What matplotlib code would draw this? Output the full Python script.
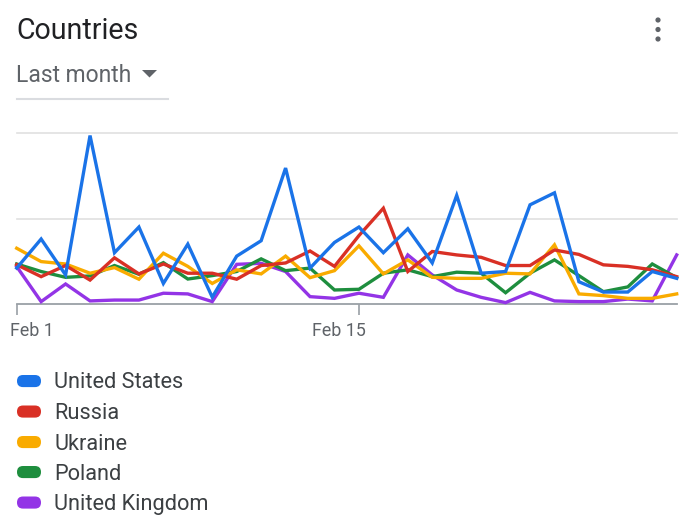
import matplotlib
matplotlib.use("Agg")
import matplotlib.pyplot as plt
from matplotlib.patches import FancyBboxPatch, Polygon, Circle

plt.rcParams['font.family'] = ['Roboto', 'DejaVu Sans']

days = list(range(1, 29))
tick_days = [1, 15]
tick_labels = ["Feb 1", "Feb 15"]

countries = ["United States", "Russia", "Ukraine", "Poland", "United Kingdom"]
colors = ["#1a73e8", "#d93025", "#f9ab00", "#1e8e3e", "#9334e6"]

united_states = [21, 38, 17, 98.5, 30, 45, 12, 35, 4, 28, 37, 79.5, 21, 36,
                 45, 30, 44, 24, 63.5, 18, 19, 58, 65, 13, 7, 7, 19, 15]
russia = [23, 16, 22.5, 14, 27, 17.6, 23.4, 18, 18, 14.5, 22.5, 24, 31, 22,
          40, 56, 19, 30.7, 28.7, 27.3, 22.5, 22.5, 31.6, 29, 22.9, 22, 20, 16]
ukraine = [32.6, 24.8, 23.4, 18, 21.3, 14.5, 29.7, 22, 12, 20, 17.6, 28, 15.4, 19.5,
           34, 17.6, 25.8, 15.6, 15, 15, 18, 17.6, 34.6, 5.9, 4.9, 3.3, 3.3, 5.9]
poland = [23.4, 19, 15.6, 16.4, 22.5, 17.4, 24.2, 14.6, 16.6, 19, 26.4, 19.5, 21, 8.2,
          8.6, 18, 20, 16, 18.6, 18, 6.6, 18, 25.8, 16.6, 7.2, 10, 23.4, 15.4]
united_kingdom = [21.9, 1.4, 11.7, 1.8, 2.3, 2.3, 6.3, 5.9, 1.4, 23.2, 23.8, 19, 4.3, 3.3,
                  6.3, 3.9, 28.7, 17, 8.2, 3.9, 0.8, 6.8, 1.8, 1.4, 1.4, 2.9, 1.8, 28.7]
series = [united_states, russia, ukraine, poland, united_kingdom]

W, H = 696, 527
fig = plt.figure(figsize=(W / 100, H / 100), dpi=100)
fig.patch.set_facecolor("white")

# main plot axes (pixel layout)
x0, x1 = 16.7, 676.7
y_base, y_top = 304, 133
ax = fig.add_axes([x0 / W, (H - y_base) / H, (x1 - x0) / W, (y_base - y_top) / H])
ax.set_xlim(days[0], days[-1])
ax.set_ylim(0, 100)
for s in ax.spines.values():
    s.set_visible(False)
ax.set_yticks([])
for g in (50, 100):
    ax.axhline(g, color="#e0e0e0", lw=1.2, zorder=0, clip_on=False)
ax.axhline(0, color="#9aa0a6", lw=1.3, zorder=1, clip_on=False)

order = [4, 3, 2, 1, 0]
for k in order:
    ax.plot(days, series[k], color=colors[k], lw=2.4, solid_joinstyle="miter",
            clip_on=False, zorder=2 + (4 - k))

ax.set_xticks(tick_days)
ax.set_xticklabels(["", ""])
ax.tick_params(axis="x", length=8, width=1.2, color="#9aa0a6", pad=8)

# overlay for header, tick labels and legend
ov = fig.add_axes([0, 0, 1, 1])
ov.set_xlim(0, W)
ov.set_ylim(H, 0)
ov.axis("off")
ov.patch.set_alpha(0)

tick_label_x = [9.5, 311.5]
for lx, lab in zip(tick_label_x, tick_labels):
    ov.text(lx, 330.5, lab, fontsize=12.9, color="#5f6368", va="center", ha="left")

ov.text(16, 31, "Countries", fontsize=20.6, color="#202124", va="center", ha="left")
ov.text(16, 75, "Last month", fontsize=16.5, color="#5f6368", va="center", ha="left")
ov.add_patch(Polygon([[142, 70], [157, 70], [149.5, 77.5]], closed=True,
                     color="#5f6368", lw=0))
ov.plot([17, 168], [99, 99], color="#dadce0", lw=1.5)

for cy in (20, 29.5, 39):
    ov.add_patch(Circle((658, cy), 2.6, color="#5f6368", lw=0))

leg_y = [381, 411.5, 442, 472, 502.5]
for k, name in enumerate(countries):
    cy = leg_y[k]
    ov.add_patch(FancyBboxPatch((17 + 6, cy), 24 - 12, 0.1,
                                boxstyle="round,pad=6", color=colors[k], lw=0,
                                mutation_aspect=1))
    ov.text(54, cy + 2, name, fontsize=15.7, color="#3c4043", va="center", ha="left")

fig.savefig("out.png", dpi=100, facecolor="white")
